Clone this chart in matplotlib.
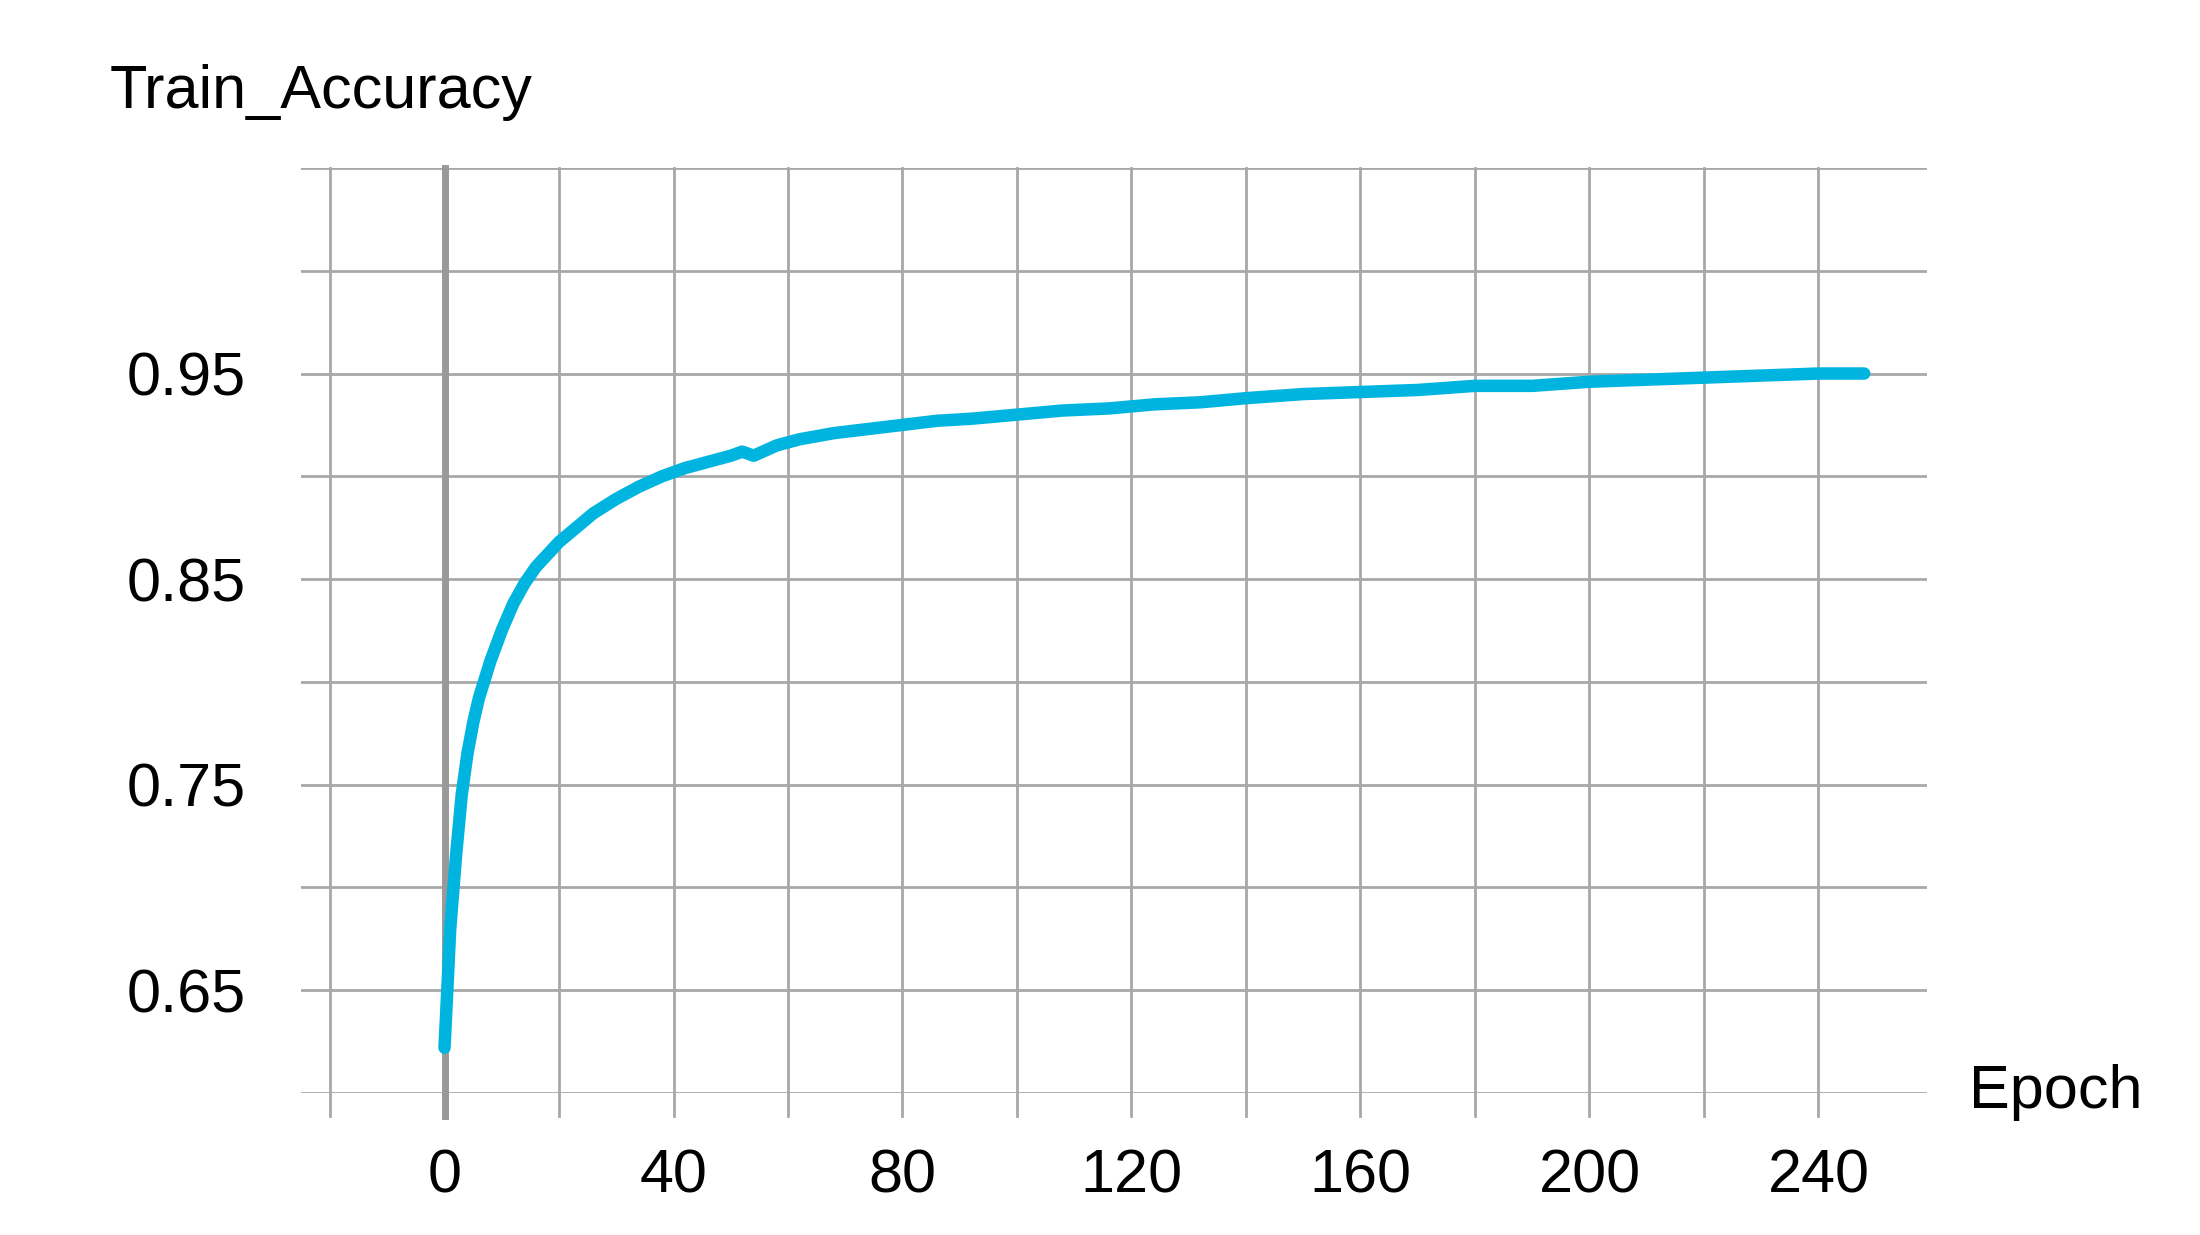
import matplotlib.pyplot as plt
import numpy as np

plt.rcParams['font.family'] = ['Liberation Sans', 'DejaVu Sans']

# Train accuracy per epoch
epochs = [0, 1, 2, 3, 4, 5, 6, 8, 10, 12, 14, 16, 18, 20, 23, 26, 30, 34, 38, 42, 46, 50, 52, 54, 58, 62, 68, 74, 80, 86, 92, 100,
          108, 116, 124, 132, 140, 150, 160, 170, 180, 190, 200, 210, 220, 230, 240, 248]
accuracy = [0.622, 0.680, 0.715, 0.745, 0.765, 0.780, 0.792, 0.810, 0.825, 0.838, 0.848, 0.856, 0.862, 0.868, 0.875, 0.882, 0.889, 0.895, 0.900, 0.904, 0.907, 0.910, 0.912, 0.910, 0.915, 0.918, 0.921, 0.923, 0.925, 0.927, 0.928, 0.930,
            0.932, 0.933, 0.935, 0.936, 0.938, 0.940, 0.941, 0.942, 0.944, 0.944, 0.946, 0.947, 0.948, 0.949, 0.950, 0.950]
x_ticks = [0, 40, 80, 120, 160, 200, 240]
y_ticks = [0.65, 0.75, 0.85, 0.95]

fig = plt.figure(figsize=(22, 12.35), dpi=100)
ax = fig.add_axes([0.137, 0.115, 0.739, 0.749])

ax.set_xlim(-25, 259)
ax.set_ylim(0.6, 1.05)

# grid
for gx in np.arange(-20, 241, 20):
    ax.axvline(gx, color='#a8a8a8', lw=2, ymin=-0.025, clip_on=False, zorder=1)
for gy in np.arange(0.6, 1.051, 0.05):
    ax.axhline(gy, color='#a8a8a8', lw=2, zorder=1)
ax.axvline(0, color='#999999', lw=5, ymin=-0.025, clip_on=False, zorder=2)

ax.plot(epochs, accuracy, color='#00b4e0', lw=9, solid_capstyle='round', zorder=3)

for s in ax.spines.values():
    s.set_visible(False)
ax.set_xticks(x_ticks)
ax.set_xticklabels([str(t) for t in x_ticks])
ax.set_yticks(y_ticks)
ax.set_yticklabels([f'{t:.2f}' for t in y_ticks])
ax.tick_params(length=0, labelsize=44, pad=40)

fig.text(0.05, 0.925, 'Train_Accuracy', fontsize=44, va='center')
fig.text(0.895, 0.115, 'Epoch', fontsize=44, va='center')

fig.savefig('out.png')
